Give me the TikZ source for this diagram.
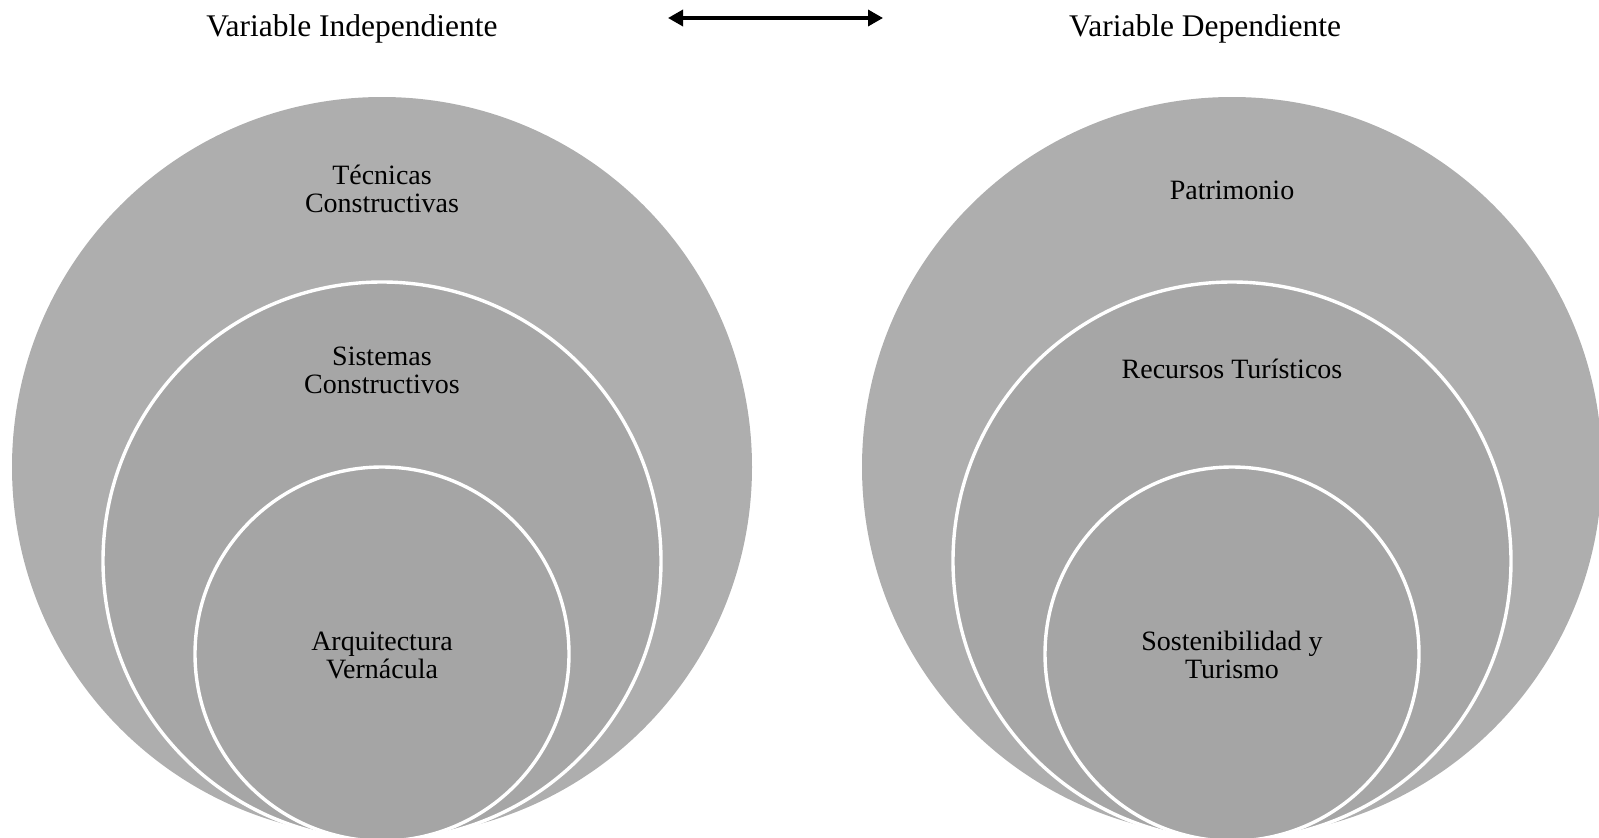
\documentclass[tikz,border=0pt]{standalone}
\usepackage{fontspec}
\setmainfont{Liberation Serif}
\usetikzlibrary{arrows.meta}
\definecolor{outerg}{RGB}{174,174,174}
\definecolor{midg}{RGB}{166,166,166}
\definecolor{inng}{RGB}{165,165,165}
\tikzset{
  ring/.style={circle,inner sep=0pt,outer sep=0pt,draw=white,line width=3.4pt},
  outerring/.style={ring,fill=outerg,draw=none},
  midring/.style={ring,fill=midg},
  innring/.style={ring,fill=inng},
  lbl/.style={align=center,font=\fontsize{28}{28}\selectfont,text=black,inner sep=0pt},
  ttl/.style={font=\fontsize{31.5}{32}\selectfont,text=black,inner sep=0pt},
}
\begin{document}
\begin{tikzpicture}[x=1pt,y=-1pt]
\useasboundingbox (0,0) rectangle (1599,838);
\begin{scope}
\clip (0,0) rectangle (1599,838);
% left
\node[outerring,minimum size=740pt] (LB) at (382,467) {};
\node[midring,minimum size=558pt] (LM) at (382,561) {};
\node[innring,minimum size=374pt] (LI) at (382,654) {};
% right
\node[outerring,minimum size=740pt] (RB) at (1232,467) {};
\node[midring,minimum size=558pt] (RM) at (1232,561) {};
\node[innring,minimum size=374pt] (RI) at (1232,654) {};
\end{scope}
\node[lbl] (tLB) at (382,189) {Técnicas\\Constructivas};
\node[lbl] (tLM) at (382,370) {Sistemas\\Constructivos};
\node[lbl] (tLI) at (382,655) {Arquitectura\\Vernácula};
\node[lbl] (tRB) at (1232,190) {Patrimonio};
\node[lbl] (tRM) at (1232,369) {Recursos Turísticos};
\node[lbl] (tRI) at (1232,655) {Sostenibilidad y\\Turismo};
\node[ttl] (tl) at (352,29) {Variable Independiente};
\node[ttl] (tr) at (1205,29) {Variable Dependiente};
\coordinate (aL) at (668,18);
\coordinate (aR) at (883,18);
\draw[line width=3.4pt,{Triangle[length=15pt,width=16pt]}-{Triangle[length=15pt,width=16pt]}] (aL) -- (aR);
\end{tikzpicture}
\end{document}
